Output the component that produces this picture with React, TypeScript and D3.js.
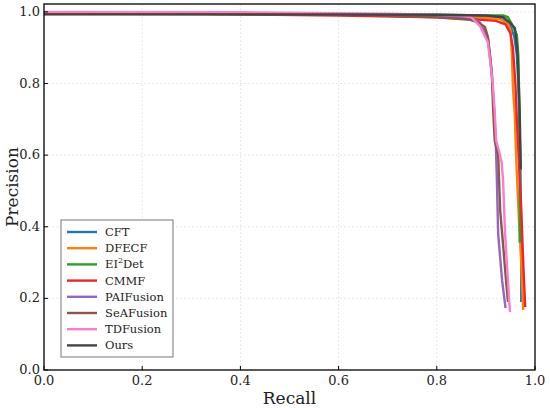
import React from "react";
import * as d3 from "d3";

// Precision-recall points [recall, precision]
const cft: [number, number][] = [
	[0, 0.995], [0.3, 0.995], [0.6, 0.993], [0.8, 0.99], [0.88, 0.988], [0.92, 0.985],
	[0.94, 0.975], [0.95, 0.96], [0.958, 0.93], [0.963, 0.88], [0.966, 0.8], [0.968, 0.7],
	[0.97, 0.6], [0.971, 0.45], [0.972, 0.3], [0.972, 0.19],
];
const dfecf: [number, number][] = [
	[0, 0.994], [0.3, 0.994], [0.6, 0.992], [0.8, 0.988], [0.88, 0.985], [0.93, 0.98],
	[0.945, 0.965], [0.95, 0.95], [0.953, 0.88], [0.955, 0.79], [0.959, 0.71], [0.961, 0.62],
	[0.963, 0.55], [0.968, 0.4], [0.972, 0.3], [0.976, 0.168],
];
const ei2det: [number, number][] = [
	[0, 0.995], [0.3, 0.995], [0.6, 0.994], [0.8, 0.992], [0.9, 0.99], [0.935, 0.99],
	[0.945, 0.985], [0.953, 0.965], [0.963, 0.936], [0.966, 0.88], [0.968, 0.75],
	[0.969, 0.6], [0.969, 0.48], [0.969, 0.355],
];
const cmmf: [number, number][] = [
	[0, 0.996], [0.3, 0.995], [0.6, 0.99], [0.8, 0.985], [0.87, 0.98], [0.92, 0.975],
	[0.94, 0.965], [0.95, 0.94], [0.955, 0.9], [0.96, 0.8], [0.963, 0.7], [0.968, 0.56],
	[0.972, 0.45], [0.976, 0.3], [0.98, 0.176],
];
const paiFusion: [number, number][] = [
	[0, 0.997], [0.5, 0.995], [0.8, 0.99], [0.868, 0.985], [0.888, 0.97], [0.904, 0.927],
	[0.912, 0.83], [0.917, 0.72], [0.92, 0.64], [0.922, 0.55], [0.925, 0.38], [0.933, 0.25],
	[0.94, 0.173],
];
const seaFusion: [number, number][] = [
	[0, 0.995], [0.6, 0.993], [0.8, 0.985], [0.868, 0.978], [0.885, 0.97], [0.898, 0.958],
	[0.904, 0.93], [0.908, 0.885], [0.912, 0.83], [0.915, 0.72], [0.918, 0.64], [0.925, 0.6],
	[0.929, 0.447], [0.935, 0.35], [0.941, 0.25], [0.945, 0.19],
];
const tdFusion: [number, number][] = [
	[0, 1.0], [0.4, 0.999], [0.7, 0.995], [0.85, 0.99], [0.87, 0.985], [0.888, 0.96],
	[0.904, 0.915], [0.914, 0.8], [0.918, 0.72], [0.921, 0.64], [0.926, 0.615], [0.932, 0.58],
	[0.935, 0.53], [0.939, 0.383], [0.944, 0.27], [0.949, 0.162],
];
const ours: [number, number][] = [
	[0, 0.993], [0.3, 0.993], [0.6, 0.993], [0.8, 0.992], [0.9, 0.99], [0.935, 0.985],
	[0.949, 0.97], [0.959, 0.955], [0.963, 0.908], [0.965, 0.87], [0.967, 0.79],
	[0.969, 0.71], [0.971, 0.56],
];

const seriesNames = ["CFT", "DFECF", "EI2Det", "CMMF", "PAIFusion", "SeAFusion", "TDFusion", "Ours"];
const seriesData = [cft, dfecf, ei2det, cmmf, paiFusion, seaFusion, tdFusion, ours];
const seriesColors = ["#1f77b4", "#ff7f0e", "#2ca02c", "#e8282a", "#9467bd", "#8c564b", "#f77fcc", "#444444"];

const xTicks = [0, 0.2, 0.4, 0.6, 0.8, 1.0];
const yTicks = [0, 0.2, 0.4, 0.6, 0.8, 1.0];

const W = 550;
const H = 408;
const margin = {top: 4, right: 15, bottom: 38, left: 44};
const font = "DejaVu Serif, serif";

export default function App() {
	const x = d3.scaleLinear().domain([0, 1]).range([margin.left, W - margin.right]);
	const y = d3.scaleLinear().domain([0, 1.022]).range([H - margin.bottom, margin.top]);
	const line = d3
		.line<[number, number]>()
		.x((d) => x(d[0]))
		.y((d) => y(d[1]));

	const x0 = margin.left;
	const x1 = W - margin.right;
	const y0 = H - margin.bottom;
	const y1 = margin.top;

	// legend box
	const lg = {x: 61, y: 220, w: 112, h: 137, row: 16.2};

	return (
		<>
			<style>{`body{margin:0}`}</style>
			<svg width={W} height={H} style={{display: "block", background: "#fff", fontFamily: font}}>
				{/* grid */}
				<g stroke="#d9d9d9" strokeWidth={0.8} strokeDasharray="1.5,2.5">
					{xTicks.slice(1, -1).map((t) => (
						<line key={"gx" + t} x1={x(t)} x2={x(t)} y1={y0} y2={y1} />
					))}
					{yTicks.slice(1).map((t) => (
						<line key={"gy" + t} x1={x0} x2={x1} y1={y(t)} y2={y(t)} />
					))}
				</g>

				{/* curves */}
				<g fill="none" strokeWidth={2.4} strokeLinejoin="round" strokeLinecap="butt">
					{seriesData.map((d, i) => (
						<path key={seriesNames[i]} d={line(d) || ""} stroke={seriesColors[i]} />
					))}
				</g>

				{/* frame */}
				<rect x={x0} y={y1} width={x1 - x0} height={y0 - y1} fill="none" stroke="#000" strokeWidth={1.3} />

				{/* ticks */}
				<g stroke="#000" strokeWidth={1}>
					{xTicks.map((t) => (
						<line key={"tx" + t} x1={x(t)} x2={x(t)} y1={y0} y2={y0 - 4} />
					))}
					{yTicks.map((t) => (
						<line key={"ty" + t} x1={x0} x2={x0 + 4} y1={y(t)} y2={y(t)} />
					))}
				</g>
				<g style={{fontFamily: font, fontSize: 13}} fill="#222">
					{xTicks.map((t) => (
						<text key={"lx" + t} x={x(t)} y={y0 + 15} textAnchor="middle">
							{t.toFixed(1)}
						</text>
					))}
					{yTicks.map((t) => (
						<text key={"ly" + t} x={x0 - 4} y={y(t) + 4} textAnchor="end">
							{t.toFixed(1)}
						</text>
					))}
				</g>

				{/* axis labels */}
				<text x={(x0 + x1) / 2} y={H - 4} textAnchor="middle" style={{fontFamily: font, fontSize: 17}} fill="#222">
					Recall
				</text>
				<text
					transform={`translate(18,${(y0 + y1) / 2}) rotate(-90)`}
					textAnchor="middle"
					style={{fontFamily: font, fontSize: 17}}
					fill="#222"
				>
					Precision
				</text>

				{/* legend */}
				<g>
					<rect x={lg.x} y={lg.y} width={lg.w} height={lg.h} fill="#fff" stroke="#777" strokeWidth={1} />
					{seriesNames.map((name, i) => {
						const cy = lg.y + 12 + i * lg.row;
						return (
							<g key={"lg" + name}>
								<line x1={lg.x + 6} x2={lg.x + 36} y1={cy} y2={cy} stroke={seriesColors[i]} strokeWidth={2.4} />
								<text x={lg.x + 44} y={cy + 4} style={{fontFamily: font, fontSize: 11.5}} fill="#222">
									{name === "EI2Det" ? (
										<>
											EI
											<tspan fontSize={8} dy={-5}>
												2
											</tspan>
											<tspan dy={5}>Det</tspan>
										</>
									) : (
										name
									)}
								</text>
							</g>
						);
					})}
				</g>
			</svg>
		</>
	);
}
